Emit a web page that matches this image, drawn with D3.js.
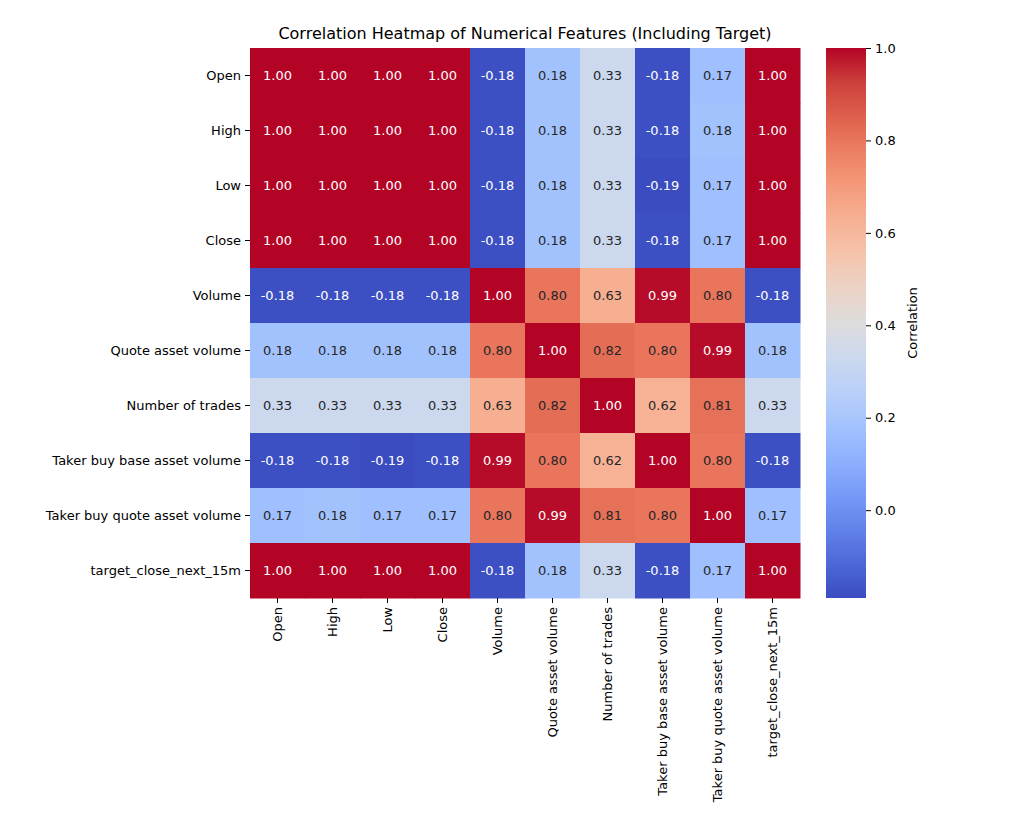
<!DOCTYPE html>
<html><head><meta charset="utf-8">
<script src="https://cdn.jsdelivr.net/npm/d3@7"></script>
<style>
body { margin: 0; background: #fff; }
text { font-family: "DejaVu Sans", sans-serif; }
</style></head>
<body><div id="chart"></div>
<script>
var features = ["Open", "High", "Low", "Close", "Volume", "Quote asset volume", "Number of trades",
  "Taker buy base asset volume", "Taker buy quote asset volume", "target_close_next_15m"];

var corr = [
  [1.00, 1.00, 1.00, 1.00, -0.18, 0.18, 0.33, -0.18, 0.17, 1.00],
  [1.00, 1.00, 1.00, 1.00, -0.18, 0.18, 0.33, -0.18, 0.18, 1.00],
  [1.00, 1.00, 1.00, 1.00, -0.18, 0.18, 0.33, -0.19, 0.17, 1.00],
  [1.00, 1.00, 1.00, 1.00, -0.18, 0.18, 0.33, -0.18, 0.17, 1.00],
  [-0.18, -0.18, -0.18, -0.18, 1.00, 0.80, 0.63, 0.99, 0.80, -0.18],
  [0.18, 0.18, 0.18, 0.18, 0.80, 1.00, 0.82, 0.80, 0.99, 0.18],
  [0.33, 0.33, 0.33, 0.33, 0.63, 0.82, 1.00, 0.62, 0.81, 0.33],
  [-0.18, -0.18, -0.19, -0.18, 0.99, 0.80, 0.62, 1.00, 0.80, -0.18],
  [0.17, 0.18, 0.17, 0.17, 0.80, 0.99, 0.81, 0.80, 1.00, 0.17],
  [1.00, 1.00, 1.00, 1.00, -0.18, 0.18, 0.33, -0.18, 0.17, 1.00]
];

var cbarTicks = [0.0, 0.2, 0.4, 0.6, 0.8, 1.0];
var vmin = -0.19, vmax = 1.0;

// coolwarm stops
var coolwarm = ["#3b4cc0", "#4d68d7", "#6282ea", "#779af7", "#8db0fe", "#a3c2fe", "#b9d0f9",
  "#cbd8ee", "#dddcdc", "#ebd3c6", "#f5c4ac", "#f7b093", "#f49a7b", "#ec7f63", "#de604d",
  "#cc403a", "#b40426"];

var svg = d3.select("#chart").append("svg").attr("width", 1032).attr("height", 840);

var plotLeft = 250, plotTop = 48, size = 550;
var x = d3.scaleBand().domain(features).range([plotLeft, plotLeft + size]);
var y = d3.scaleBand().domain(features).range([plotTop, plotTop + size]);

var colorT = d3.scaleLinear().domain([vmin, vmax]).range([0, 1]).clamp(true);
var interp = d3.piecewise(d3.interpolateRgb, coolwarm);
var color = v => interp(colorT(v));

var cells = [];
corr.forEach((row, i) => row.forEach((v, j) => cells.push({ r: features[i], c: features[j], v: v })));

svg.append("g").selectAll("rect").data(cells).join("rect")
  .attr("x", d => x(d.c)).attr("y", d => y(d.r))
  .attr("width", x.bandwidth() + 0.5).attr("height", y.bandwidth() + 0.5)
  .attr("fill", d => color(d.v));

svg.append("g").selectAll("text").data(cells).join("text")
  .attr("x", d => x(d.c) + x.bandwidth() / 2)
  .attr("y", d => y(d.r) + y.bandwidth() / 2)
  .attr("text-anchor", "middle").attr("dominant-baseline", "central")
  .attr("font-size", 13)
  .attr("fill", d => {
    var c = d3.rgb(color(d.v));
    var lum = 0.2126 * c.r + 0.7152 * c.g + 0.0722 * c.b;
    return lum > 102 ? "#262626" : "#ffffff";
  })
  .text(d => d3.format(".2f")(d.v).replace("−", "-"));

// axes
var yAxis = svg.append("g").attr("transform", `translate(${plotLeft},0)`).call(d3.axisLeft(y).tickSize(5).tickPadding(4));
var xAxis = svg.append("g").attr("transform", `translate(0,${plotTop + size})`).call(d3.axisBottom(x).tickSize(5).tickPadding(4));
[xAxis, yAxis].forEach(a => {
  a.select(".domain").remove();
  a.selectAll("text").attr("font-size", 13).attr("font-family", "DejaVu Sans").attr("fill", "#000");
});
xAxis.selectAll("text")
  .attr("transform", "rotate(-90)")
  .attr("text-anchor", "end")
  .attr("x", -9).attr("y", 0).attr("dy", "0.35em");

// title
svg.append("text").attr("x", plotLeft + size / 2).attr("y", 39).attr("text-anchor", "middle")
  .attr("font-size", 16).text("Correlation Heatmap of Numerical Features (Including Target)");

// colorbar
var cbX = 826, cbW = 40;
var cy = d3.scaleLinear().domain([vmin, vmax]).range([plotTop + size, plotTop]);
var grad = svg.append("defs").append("linearGradient").attr("id", "cb")
  .attr("x1", 0).attr("y1", 1).attr("x2", 0).attr("y2", 0);
coolwarm.forEach((c, i) => grad.append("stop").attr("offset", i / (coolwarm.length - 1)).attr("stop-color", c));
svg.append("rect").attr("x", cbX).attr("y", plotTop).attr("width", cbW).attr("height", size).attr("fill", "url(#cb)");
var cAxis = svg.append("g").attr("transform", `translate(${cbX + cbW},0)`)
  .call(d3.axisRight(cy).tickValues(cbarTicks).tickFormat(d3.format(".1f")).tickSize(5).tickPadding(4));
cAxis.select(".domain").remove();
cAxis.selectAll("text").attr("font-size", 13).attr("fill", "#000");
svg.append("text").attr("transform", `translate(917,${plotTop + size / 2}) rotate(-90)`)
  .attr("text-anchor", "middle").attr("font-size", 13).text("Correlation");
</script></body></html>
